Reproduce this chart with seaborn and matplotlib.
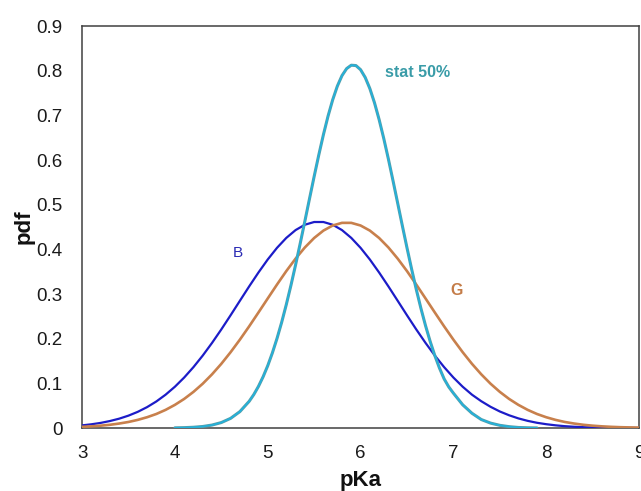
import matplotlib
matplotlib.use("Agg")
import matplotlib.pyplot as plt
import seaborn as sns
import pandas as pd

# x grids
x_b = [round(3.0 + 0.1 * i, 1) for i in range(61)]
x_g = [round(3.0 + 0.1 * i, 1) for i in range(61)]
x_s = [4.0, 4.1, 4.2, 4.3, 4.4, 4.5, 4.6, 4.7, 4.8, 4.85, 4.9, 4.95,
       5.0, 5.05, 5.1, 5.15, 5.2, 5.25, 5.3, 5.35, 5.4, 5.45, 5.5, 5.55,
       5.6, 5.65, 5.7, 5.75, 5.8, 5.85, 5.9, 5.95, 6.0, 6.05, 6.1, 6.15,
       6.2, 6.25, 6.3, 6.35, 6.4, 6.45, 6.5, 6.55, 6.6, 6.65, 6.7, 6.75,
       6.8, 6.85, 6.9, 6.95, 7.0, 7.1, 7.2, 7.3, 7.4, 7.5, 7.6, 7.7, 7.8, 7.9]

# B curve (blue)
pdf_b = [0.0059, 0.0083, 0.0114, 0.0156, 0.0209, 0.0277, 0.0362, 0.0467, 0.0594, 0.0746,
         0.0924, 0.1130, 0.1363, 0.1622, 0.1905, 0.2207, 0.2524, 0.2848, 0.3170, 0.3481,
         0.3773, 0.4034, 0.4256, 0.4431, 0.4551, 0.4612, 0.4612, 0.4551, 0.4431, 0.4256,
         0.4034, 0.3773, 0.3481, 0.3170, 0.2848, 0.2524, 0.2207, 0.1905, 0.1622, 0.1363,
         0.1130, 0.0924, 0.0746, 0.0600, 0.0475, 0.0370, 0.0285, 0.0215, 0.0160, 0.0117,
         0.0085, 0.0060, 0.0041, 0.0028, 0.0019, 0.0012, 0.0008, 0.0005, 0.0003, 0.0002,
         0.0001]

# G curve (brown)
pdf_g = [0.0026, 0.0037, 0.0052, 0.0072, 0.0100, 0.0135, 0.0182, 0.0241, 0.0314, 0.0406,
         0.0518, 0.0651, 0.0809, 0.0992, 0.1202, 0.1437, 0.1697, 0.1978, 0.2276, 0.2586,
         0.2900, 0.3212, 0.3513, 0.3792, 0.4042, 0.4254, 0.4420, 0.4534, 0.4593, 0.4593,
         0.4534, 0.4420, 0.4254, 0.4042, 0.3792, 0.3513, 0.3212, 0.2900, 0.2586, 0.2276,
         0.1978, 0.1697, 0.1437, 0.1202, 0.0992, 0.0809, 0.0651, 0.0518, 0.0406, 0.0314,
         0.0241, 0.0182, 0.0135, 0.0100, 0.0072, 0.0052, 0.0037, 0.0026, 0.0018, 0.0013,
         0.0009]

# stat 50% curve (teal)
pdf_s = [0.0004, 0.0008, 0.0017, 0.0034, 0.0066, 0.0122, 0.0216, 0.0367, 0.0597, 0.0749,
         0.0931, 0.1146,
         0.1394, 0.1681, 0.2005, 0.2365, 0.2763, 0.3193, 0.3652, 0.4133, 0.4630, 0.5133,
         0.5631, 0.6113, 0.6569, 0.6985, 0.7350, 0.7655, 0.7890, 0.8047, 0.8123, 0.8115,
         0.8023, 0.7849, 0.7600, 0.7282, 0.6905, 0.6481, 0.6019, 0.5532, 0.5032, 0.4529,
         0.4035, 0.3558, 0.3104, 0.2680, 0.2290, 0.1937, 0.1621, 0.1342, 0.1100, 0.0920,
         0.0780, 0.0520, 0.0330, 0.0190, 0.0110, 0.0060, 0.0030, 0.0012, 0.0005, 0.0002]

x_ticks = [3, 4, 5, 6, 7, 8, 9]
y_ticks = [0, 0.1, 0.2, 0.3, 0.4, 0.5, 0.6, 0.7, 0.8, 0.9]
y_tick_labels = ["0", "0.1", "0.2", "0.3", "0.4", "0.5", "0.6", "0.7", "0.8", "0.9"]

sns.set_theme(style="white")
plt.rcParams["font.family"] = ["Liberation Sans", "DejaVu Sans"]
plt.rcParams["lines.solid_joinstyle"] = "round"
plt.rcParams["lines.solid_capstyle"] = "round"

df_b = pd.DataFrame({"pKa": x_b, "pdf": pdf_b})
df_g = pd.DataFrame({"pKa": x_g, "pdf": pdf_g})
df_s = pd.DataFrame({"pKa": x_s, "pdf": pdf_s})

fig = plt.figure(figsize=(6.41, 4.91), dpi=100)
ax = fig.add_axes([0.128, 0.1283, 0.869, 0.8187])

sns.lineplot(data=df_b, x="pKa", y="pdf", ax=ax, color="#1c1cc8", lw=1.6, zorder=3)
sns.lineplot(data=df_g, x="pKa", y="pdf", ax=ax, color="#c8804c", lw=1.9, zorder=4)
sns.lineplot(data=df_s, x="pKa", y="pdf", ax=ax, color="#5a9ea8", lw=2.2, zorder=5)
sns.lineplot(data=df_s, x="pKa", y="pdf", ax=ax, color="#22b2dc", lw=1.2, zorder=6)

ax.set_xlim(3, 9)
ax.set_ylim(0, 0.9)
ax.set_xticks(x_ticks)
ax.set_xticklabels([str(t) for t in x_ticks])
ax.set_yticks(y_ticks)
ax.set_yticklabels(y_tick_labels)
ax.tick_params(axis="both", direction="in", length=5, width=0.9, colors="#555555",
               labelsize=13.5, labelcolor="#1a1a1a")
ax.tick_params(axis="x", pad=12)
ax.tick_params(axis="y", pad=14)
for sp in ax.spines.values():
    sp.set_visible(True)
    sp.set_color("#404040")
    sp.set_linewidth(1.1)

ax.set_xlabel("pKa", fontsize=16, fontweight="bold", color="#111111", labelpad=6)
ax.set_ylabel("pdf", fontsize=16, fontweight="bold", color="#111111", labelpad=1)

ax.text(6.264, 0.797, "stat 50%", fontsize=11.5, fontweight="bold", color="#3a9ca8",
        ha="left", va="center")
ax.text(4.68, 0.392, "B", fontsize=11, color="#2a2ab4", ha="center", va="center")
ax.text(7.03, 0.308, "G", fontsize=11.5, fontweight="bold", color="#c47c48",
        ha="center", va="center")

fig.savefig("out.png", dpi=100)
